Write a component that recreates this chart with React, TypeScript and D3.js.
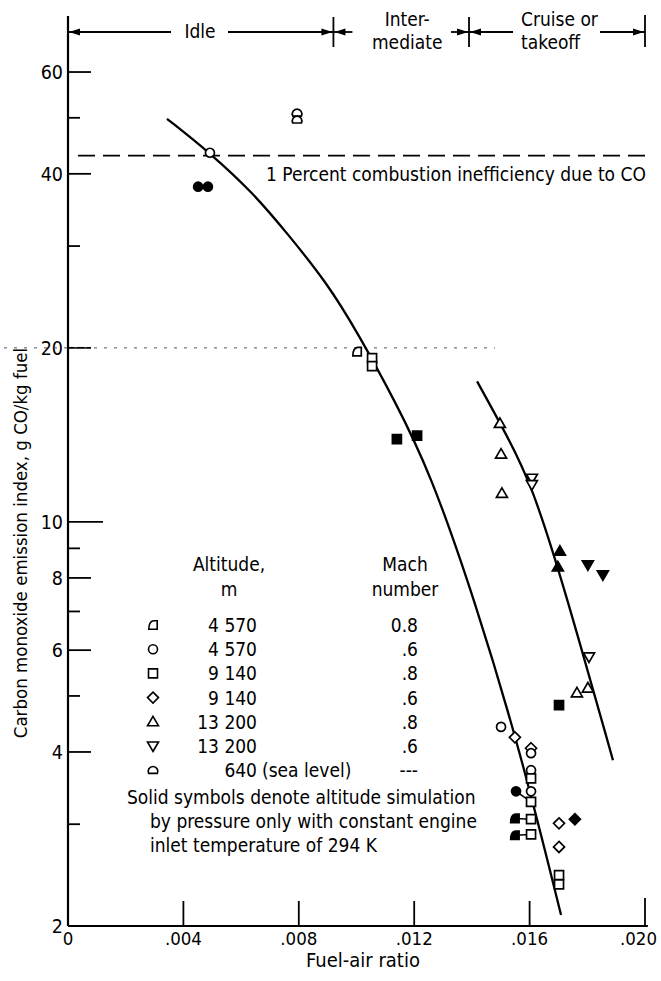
import React from "react";
import * as d3 from "d3";

// ---------- data ----------
const xTicks = [0, 0.004, 0.008, 0.012, 0.016, 0.02];
const xTickLabels = ["0", ".004", ".008", ".012", ".016", ".020"];
const yMajorTicks = [60, 40, 20, 10, 8, 6, 4];
const yMajorLabels = ["60", "40", "20", "10", "8", "6", "4", "2"];
const yLabelValues = [60, 40, 20, 10, 8, 6, 4, 2];
const yMinorTicks = [50, 30, 9, 7, 5, 3];

// main (idle/intermediate) curve
const curveAX = [0.00343, 0.00492, 0.00641, 0.00759, 0.00898, 0.01005, 0.0113, 0.01255, 0.01411, 0.01567, 0.01709];
const curveAY = [49.8, 43.5, 37.1, 31.6, 25.9, 21.2, 16.3, 12.2, 7.3, 4.03, 2.09];
// cruise curve
const curveBX = [0.01418, 0.01515, 0.01608, 0.01723, 0.01889];
const curveBY = [17.5, 14.3, 11.6, 7.62, 3.87];

const inefficiencyLevel = 43;

// points: symbol type, filled, fuel-air ratio, CO index
const ptType = ["sl", "sl", "circle", "circle", "circle", "flag", "square", "square", "square", "square",
  "tri", "tri", "tri", "itri", "itri", "tri", "tri", "itri", "itri", "itri", "tri", "tri", "square",
  "circle", "diamond", "diamond", "circle", "circle", "square", "circle", "square", "square", "square",
  "circle", "flag", "flag", "diamond", "diamond", "diamond", "square", "square"];
const ptFilled = [0, 0, 0, 1, 1, 0, 0, 0, 1, 1,
  0, 0, 0, 0, 0, 1, 1, 1, 1, 0, 0, 0, 1,
  0, 0, 0, 0, 0, 0, 0, 0, 0, 0,
  1, 1, 1, 0, 0, 1, 0, 0];
const ptX = [0.00794, 0.00794, 0.00492, 0.00451, 0.00485, 0.01002, 0.01054, 0.01054, 0.0114, 0.0121,
  0.01497, 0.01501, 0.01504, 0.01608, 0.01608, 0.01705, 0.01698, 0.01802, 0.01854, 0.01806, 0.01764, 0.01802, 0.01702,
  0.01501, 0.01549, 0.01605, 0.01605, 0.01605, 0.01605, 0.01605, 0.01605, 0.01605, 0.01605,
  0.01553, 0.01549, 0.01549, 0.01702, 0.01702, 0.01757, 0.01702, 0.01702];
const ptY = [51.0, 49.6, 43.5, 38.0, 38.0, 19.7, 19.2, 18.6, 13.9, 14.1,
  14.8, 13.1, 11.2, 11.9, 11.6, 8.9, 8.36, 8.43, 8.1, 5.84, 5.06, 5.16, 4.82,
  4.42, 4.24, 4.06, 3.98, 3.72, 3.6, 3.42, 3.28, 3.06, 2.88,
  3.42, 3.07, 2.87, 3.01, 2.74, 3.06, 2.45, 2.36];
// leader lines between point indices
const leaders = [[33, 30], [34, 31], [35, 32]];

// legend
const legendSymbols = ["flag", "circle", "square", "diamond", "tri", "itri", "sl"];
const legendAltitudes = ["4 570", "4 570", "9 140", "9 140", "13 200", "13 200", "640"];
const legendMach = ["0.8", ".6", ".8", ".6", ".8", ".6", "---"];

// operating regimes (fuel-air ratio boundaries)
const regimeBounds = [0, 0.0092, 0.0139, 0.02];

const FONT = "'DejaVu Sans Condensed','Liberation Sans Narrow','Arial Narrow',sans-serif";

function symPath(t: string): string {
  switch (t) {
    case "circle":
      return "M4.5,0A4.5,4.5 0 1,1 -4.5,0A4.5,4.5 0 1,1 4.5,0Z";
    case "square":
      return "M-4.5,-4.5H4.5V4.5H-4.5Z";
    case "diamond":
      return "M0,-5.5L5.5,0L0,5.5L-5.5,0Z";
    case "tri":
      return "M0,-5.5L5.5,4L-5.5,4Z";
    case "itri":
      return "M0,5.5L5.5,-4L-5.5,-4Z";
    case "sl":
      return "M-4.3,3.2A4.8,4.8 0 1,1 4.3,3.2Z";
    case "flag":
      return "M-4.2,4.2L4.2,4.2L4.2,-4.2L0.5,-4.2Q-4.2,-3.6 -4.2,4.2Z";
    default:
      return "";
  }
}

function Arrow({ x, y, dir }: { x: number; y: number; dir: number }) {
  const L = 11, W = 3.5;
  return <path d={`M${x},${y}L${x - dir * L},${y - W}L${x - dir * L},${y + W}Z`} fill="#000" />;
}

export default function App() {
  const W = 661, H = 981;
  const x = d3.scaleLinear().domain([0, 0.02]).range([68, 645]);
  const y = d3.scaleLog().domain([2, 75]).range([926, 16]);

  const line = d3.line<[number, number]>()
    .x((d) => x(d[0]))
    .y((d) => y(d[1]))
    .curve(d3.curveBasis);
  const curveA = line(curveAX.map((v, i) => [v, curveAY[i]] as [number, number])) || "";
  const curveB = line(curveBX.map((v, i) => [v, curveBY[i]] as [number, number])) || "";

  const x0 = x(0), yb = y(2), yt = y(75);
  const hy = 32;
  const b1 = x(regimeBounds[1]), b2 = x(regimeBounds[2]), b3 = x(regimeBounds[3]);

  const legX = 153, legAltX = 257, legMachX = 418, legY0 = 625, legDy = 24.2;
  const fs = 19;

  return (
    <svg width={W} height={H} style={{ position: "absolute", left: 0, top: 0, background: "#fff" }}
      fontFamily={FONT}>
      <rect width={W} height={H} fill="#fff" />
      {/* axes */}
      <line x1={x0} x2={x0} y1={yt} y2={yb} stroke="#000" strokeWidth={2.2} />
      <line x1={x0} x2={x(0.0201)} y1={yb} y2={yb} stroke="#000" strokeWidth={2.2} />
      {xTicks.map((t, i) => (
        <g key={"xt" + i}>
          {i > 0 && <line x1={x(t)} x2={x(t)} y1={yb} y2={yb - (i === 5 ? 28 : 25)} stroke="#000" strokeWidth={1.8} />}
          <text x={i === 5 ? x(t) + 12 : x(t)} y={yb + 19} fontSize={18.5}
            textAnchor={i === 5 ? "end" : "middle"} fill="#000">{xTickLabels[i]}</text>
        </g>
      ))}
      <text x={363} y={yb + 41} fontSize={20} textAnchor="middle" fill="#000">Fuel-air ratio</text>
      {yMajorTicks.map((t) => (
        <line key={"ym" + t} x1={x0} x2={x0 + (t === 10 ? 35 : 23)} y1={y(t)} y2={y(t)} stroke="#000" strokeWidth={1.8} />
      ))}
      {yMinorTicks.map((t) => (
        <line key={"yn" + t} x1={x0} x2={x0 + 12} y1={y(t)} y2={y(t)} stroke="#000" strokeWidth={1.8} />
      ))}
      {yLabelValues.map((t, i) => (
        <text key={"yl" + t} x={x0 - 5} y={y(t) + 7} fontSize={19.5} textAnchor="end" fill="#000">{yMajorLabels[i]}</text>
      ))}
      <text transform={`translate(27,543) rotate(-90)`} fontSize={18.5} textAnchor="middle" fill="#000">
        Carbon monoxide emission index, g CO/kg fuel
      </text>
      <line x1={4} x2={495} y1={y(20)} y2={y(20)} stroke="#555" strokeWidth={1} strokeDasharray="3,7" />
      <line x1={x0 + 10} x2={x(0.0201)} y1={y(inefficiencyLevel)} y2={y(inefficiencyLevel)} stroke="#000" strokeWidth={1.8} strokeDasharray="17,8" />
      <text x={x(0.0201) - 2} y={y(inefficiencyLevel) + 25} fontSize={fs} textAnchor="end" fill="#000">
        1 Percent combustion inefficiency due to CO
      </text>
      {/* header regimes */}
      <g stroke="#000" strokeWidth={1.8}>
        <line x1={x0} x2={171} y1={hy} y2={hy} />
        <line x1={228} x2={b1} y1={hy} y2={hy} />
        <line x1={b1} x2={b1 + 19} y1={hy} y2={hy} />
        <line x1={b2 - 18} x2={b2} y1={hy} y2={hy} />
        <line x1={b2} x2={b2 + 44} y1={hy} y2={hy} />
        <line x1={600} x2={b3} y1={hy} y2={hy} />
        <line x1={b1} x2={b1} y1={17} y2={47} />
        <line x1={b2} x2={b2} y1={17} y2={47} />
        <line x1={b3} x2={b3} y1={15} y2={47} />
      </g>
      <Arrow x={x0 + 1} y={hy} dir={-1} />
      <Arrow x={b1 - 1} y={hy} dir={1} />
      <Arrow x={b1 + 1} y={hy} dir={-1} />
      <Arrow x={b2 - 1} y={hy} dir={1} />
      <Arrow x={b2 + 1} y={hy} dir={-1} />
      <Arrow x={b3 - 1} y={hy} dir={1} />
      <text x={200} y={hy + 6} fontSize={fs} textAnchor="middle" fill="#000">Idle</text>
      <text x={(b1 + b2) / 2 + 6} y={hy - 6} fontSize={fs} textAnchor="middle" fill="#000">Inter-</text>
      <text x={(b1 + b2) / 2 + 6} y={hy + 17} fontSize={fs} textAnchor="middle" fill="#000">mediate</text>
      <text x={521} y={hy - 6} fontSize={fs} textAnchor="start" fill="#000">Cruise or</text>
      <text x={521} y={hy + 17} fontSize={fs} textAnchor="start" fill="#000">takeoff</text>
      {/* curves */}
      <path d={curveA} fill="none" stroke="#000" strokeWidth={2.3} />
      <path d={curveB} fill="none" stroke="#000" strokeWidth={2.3} />
      {leaders.map(([a, b], i) => (
        <line key={"ld" + i} x1={x(ptX[a])} y1={y(ptY[a])} x2={x(ptX[b])} y2={y(ptY[b])} stroke="#000" strokeWidth={1.5} />
      ))}
      {ptX.map((v, i) => (
        <path key={"p" + i} d={symPath(ptType[i])} transform={`translate(${x(v)},${y(ptY[i])})`}
          fill={ptFilled[i] ? "#000" : "#fff"} stroke="#000" strokeWidth={1.7} />
      ))}
      {/* legend */}
      <text x={229} y={571} fontSize={fs} textAnchor="middle" fill="#000">Altitude,</text>
      <text x={229} y={596} fontSize={fs} textAnchor="middle" fill="#000">m</text>
      <text x={405} y={571} fontSize={fs} textAnchor="middle" fill="#000">Mach</text>
      <text x={405} y={596} fontSize={fs} textAnchor="middle" fill="#000">number</text>
      {legendSymbols.map((s, i) => (
        <g key={"lg" + i}>
          <path d={symPath(s)} transform={`translate(${legX},${legY0 + i * legDy})`} fill="#fff" stroke="#000" strokeWidth={1.6} />
          <text x={legAltX} y={legY0 + i * legDy + 7} fontSize={fs} textAnchor="end" fill="#000">{legendAltitudes[i]}</text>
          {s === "sl" && <text x={legAltX + 5} y={legY0 + i * legDy + 7} fontSize={fs} fill="#000">(sea level)</text>}
          <text x={legMachX} y={legY0 + i * legDy + 7} fontSize={fs} textAnchor="end" fill="#000">{legendMach[i]}</text>
        </g>
      ))}
      <text x={127} y={804} fontSize={fs} fill="#000">Solid symbols denote altitude simulation</text>
      <text x={150} y={828} fontSize={fs} fill="#000">by pressure only with constant engine</text>
      <text x={150} y={852} fontSize={fs} fill="#000">inlet temperature of 294 K</text>
    </svg>
  );
}
